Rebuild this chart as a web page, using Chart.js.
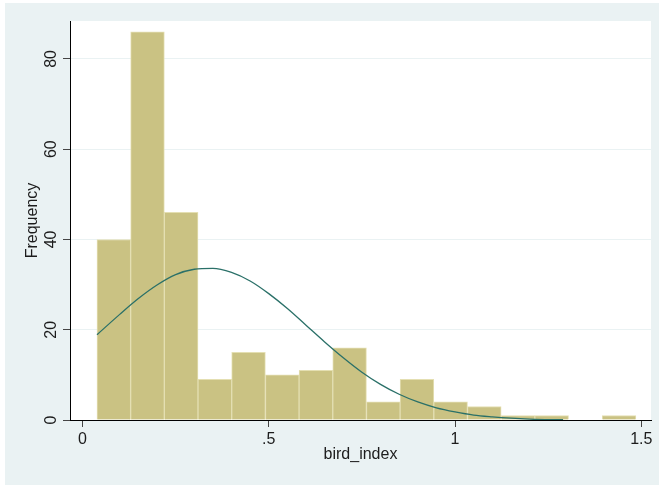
<!DOCTYPE html>
<html>
<head>
<meta charset="utf-8">
<script src="https://cdn.jsdelivr.net/npm/chart.js@4"></script>
<style>
  html, body { margin: 0; padding: 0; background: #ffffff; }
  #wrap { position: relative; width: 660px; height: 485px; }
</style>
</head>
<body>
<div id="wrap"><canvas id="grafico" width="660" height="485"></canvas></div>
<script>
// histograma: centro de cada classe e frequência
const binCenters = [0.0841, 0.1745, 0.2649, 0.3553, 0.4457, 0.5362, 0.6266, 0.7170,
                    0.8074, 0.8978, 0.9882, 1.0786, 1.1690, 1.2594, 1.3498, 1.4402];
const frequencias = [40, 86, 46, 9, 15, 10, 11, 16, 4, 9, 4, 3, 1, 1, 0, 1];

// curva normal
const curvaX = [0.039, 0.1, 0.15, 0.2, 0.25, 0.3, 0.35, 0.4, 0.45, 0.5, 0.55, 0.6, 0.65,
                0.7, 0.75, 0.8, 0.85, 0.9, 0.95, 1.0, 1.05, 1.1, 1.15, 1.2, 1.25, 1.29];
const curvaY = [18.9, 23.4, 26.9, 29.9, 32.2, 33.4, 33.6, 32.7, 30.8, 28.0, 24.7, 21.0, 17.3,
                13.8, 10.6, 7.9, 5.7, 4.0, 2.7, 1.8, 1.1, 0.7, 0.4, 0.2, 0.1, 0.1];

const xTicks = [0, 0.5, 1, 1.5];
const xTickLabels = ['0', '.5', '1', '1.5'];
const yTicks = [0, 20, 40, 60, 80];
const yTickLabels = ['0', '20', '40', '60', '80'];

const fonte = 'Liberation Sans, Arial, sans-serif';
const corTexto = '#1c1c1c';

const fundoPainel = {
  id: 'fundoPainel',
  beforeDraw(chart) {
    const ctx = chart.ctx;
    ctx.save();
    ctx.fillStyle = '#ffffff';
    ctx.fillRect(0, 0, chart.width, chart.height);
    ctx.fillStyle = '#eaf2f3';
    ctx.fillRect(5, 3, 654, 482);
    const a = chart.chartArea;
    ctx.fillStyle = '#ffffff';
    ctx.fillRect(a.left, a.top, a.right - a.left, a.bottom - a.top);
    ctx.restore();
  }
};

// rótulos do eixo y girados, como no Stata
const rotulosY = {
  id: 'rotulosY',
  afterDraw(chart) {
    const ctx = chart.ctx;
    const y = chart.scales.y;
    ctx.save();
    ctx.fillStyle = corTexto;
    ctx.font = '16px ' + fonte;
    ctx.textAlign = 'center';
    ctx.textBaseline = 'alphabetic';
    yTicks.forEach((v, i) => {
      ctx.save();
      ctx.translate(56, y.getPixelForValue(v));
      ctx.rotate(-Math.PI / 2);
      ctx.fillText(yTickLabels[i], 0, 0);
      ctx.restore();
    });
    ctx.restore();
  }
};

const ctx = document.getElementById('grafico').getContext('2d');

new Chart(ctx, {
  type: 'bar',
  data: {
    datasets: [
      {
        type: 'line',
        data: curvaX.map((x, i) => ({ x: x, y: curvaY[i] })),
        borderColor: '#2a7068',
        borderWidth: 1.3,
        pointRadius: 0,
        cubicInterpolationMode: 'monotone',
        fill: false,
        order: 0
      },
      {
        type: 'bar',
        data: binCenters.map((x, i) => ({ x: x, y: frequencias[i] })),
        backgroundColor: '#cac283',
        borderColor: '#e4dfb2',
        borderWidth: 1,
        barPercentage: 1,
        categoryPercentage: 1,
        order: 1
      }
    ]
  },
  options: {
    responsive: false,
    animation: false,
    layout: { padding: { left: 0, right: 9, top: 21, bottom: 0 } },
    plugins: { legend: { display: false }, tooltip: { enabled: false } },
    scales: {
      x: {
        type: 'linear',
        offset: false,
        min: -0.0335,
        max: 1.526,
        afterBuildTicks: s => { s.ticks = xTicks.map(v => ({ value: v })); },
        afterFit: s => { s.height = 65; },
        ticks: {
          callback: (v) => xTickLabels[xTicks.indexOf(v)],
          color: corTexto,
          font: { family: fonte, size: 16 },
          padding: 3,
          maxRotation: 0,
          autoSkip: false
        },
        grid: { offset: false, drawOnChartArea: false, drawTicks: true, tickLength: 7, tickColor: '#444444' },
        border: { color: '#000000', width: 1 },
        title: {
          display: true,
          text: 'bird_index',
          color: corTexto,
          font: { family: fonte, size: 16 },
          padding: { top: 0, bottom: 21 }
        }
      },
      y: {
        min: 0,
        max: 88.4,
        afterBuildTicks: s => { s.ticks = yTicks.map(v => ({ value: v })); },
        afterFit: s => { s.width = 70; },
        ticks: { display: false },
        grid: { color: '#eaf2f3', lineWidth: 1, drawTicks: true, tickLength: 7, tickColor: '#444444' },
        border: { color: '#000000', width: 1 },
        title: {
          display: true,
          text: 'Frequency',
          color: corTexto,
          font: { family: fonte, size: 16 },
          padding: { top: 23, bottom: 0 }
        }
      }
    }
  },
  plugins: [fundoPainel, rotulosY]
});
</script>
</body>
</html>
